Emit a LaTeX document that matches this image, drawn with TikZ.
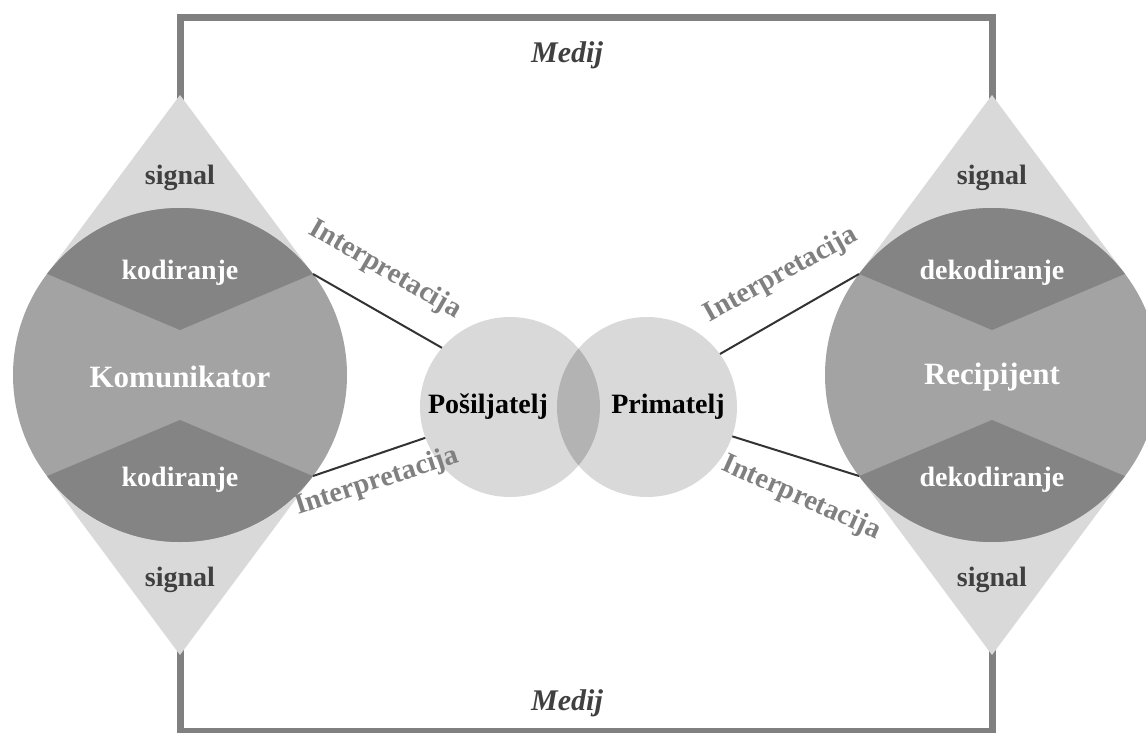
\documentclass[tikz,border=0pt]{standalone}
\usepackage{fontspec}
\setmainfont{Liberation Serif}
\definecolor{lightgr}{HTML}{D9D9D9}
\definecolor{midgr}{HTML}{A3A3A3}
\definecolor{darkgr}{HTML}{848484}
\definecolor{lensgr}{HTML}{B3B3B3}
\definecolor{framegr}{HTML}{808080}
\definecolor{labelgr}{HTML}{808080}
\definecolor{sigtxt}{HTML}{404040}
\begin{document}
\begin{tikzpicture}[x=1pt,y=-1pt,
  bigtxt/.style={font=\fontsize{31}{34}\selectfont\bfseries, text=white},
  zonetxt/.style={font=\fontsize{28}{32}\selectfont\bfseries, text=white},
  sigtext/.style={font=\fontsize{28}{32}\selectfont\bfseries, text=sigtxt},
  rolestxt/.style={font=\fontsize{28}{32}\selectfont\bfseries, text=black},
  interp/.style={font=\fontsize{28.5}{31}\selectfont\bfseries, text=labelgr, inner sep=0pt},
  medij/.style={font=\fontsize{30}{34}\selectfont\bfseries\itshape, text=sigtxt},
  bigcircle/.style={circle, fill=midgr, minimum size=334pt, inner sep=0pt},
  smallcircle/.style={circle, fill=lightgr, minimum size=180pt, inner sep=0pt},
  link/.style={draw=black!80, line width=2pt}]
\clip (0,0) rectangle (1146,733);
\fill[white] (0,0) rectangle (1146,733);

% the medium frame
\draw[framegr, line width=7pt] (180,17.5) rectangle (992,731);

% two end figures: signal triangles, main circle, coding zones
\foreach \cx/\nm in {180/L, 992/R}{
  \coordinate (\nm ul) at (\cx-133,274);
  \coordinate (\nm ur) at (\cx+133,274);
  \coordinate (\nm ll) at (\cx-133,476);
  \coordinate (\nm lr) at (\cx+133,476);
  \fill[lightgr] (\cx,95) -- (\nm ul) -- (\cx,375) -- (\nm ur) -- cycle;
  \fill[lightgr] (\cx,655) -- (\nm ll) -- (\cx,375) -- (\nm lr) -- cycle;
  \node[bigcircle] (\nm c) at (\cx,375) {};
  \begin{scope}
    \clip (\cx-180,254) -- (\cx,330) -- (\cx+180,254) -- (\cx+180,0) -- (\cx-180,0) -- cycle;
    \fill[darkgr] (\nm c.center) circle (167pt);
  \end{scope}
  \begin{scope}
    \clip (\cx-180,496) -- (\cx,420) -- (\cx+180,496) -- (\cx+180,750) -- (\cx-180,750) -- cycle;
    \fill[darkgr] (\nm c.center) circle (167pt);
  \end{scope}
}

% sender and receiver circles with their overlap
\node[smallcircle] (pos) at (510,407) {};
\node[smallcircle] (pri) at (647,407) {};
\begin{scope}
  \clip (pos.center) circle (90pt);
  \fill[lensgr] (pri.center) circle (90pt);
\end{scope}

% connectors
\draw[link] (Lur) -- (pos.139);
\draw[link] (Llr) -- (pos.200);
\draw[link] (Rul) -- (pri.36);
\draw[link] (Rll) -- (pri.-19);

% texts
\node[sigtext] (s1) at (180,178) {signal};
\node[sigtext] (s2) at (180,580) {signal};
\node[sigtext] (s3) at (992,178) {signal};
\node[sigtext] (s4) at (992,580) {signal};
\node[zonetxt] (k1) at (180,273) {kodiranje};
\node[zonetxt] (k2) at (180,480) {kodiranje};
\node[zonetxt] (d1) at (992,273) {dekodiranje};
\node[zonetxt] (d2) at (992,480) {dekodiranje};
\node[bigtxt] (kom) at (180,377) {Komunikator};
\node[bigtxt] (rec) at (992,377) {Recipijent};
\node[rolestxt] (post) at (488,407) {Pošiljatelj};
\node[rolestxt] (prit) at (668,407) {Primatelj};
\node[medij] (m1) at (567,55) {Medij};
\node[medij] (m2) at (567,703) {Medij};
\node[interp, rotate=-30] (i1) at (385,270) {Interpretacija};
\node[interp, rotate=29] (i2) at (781,275) {Interpretacija};
\node[interp, rotate=18] (i3) at (377,482) {Interpretacija};
\node[interp, rotate=-24] (i4) at (801,498) {Interpretacija};
\end{tikzpicture}
\end{document}
